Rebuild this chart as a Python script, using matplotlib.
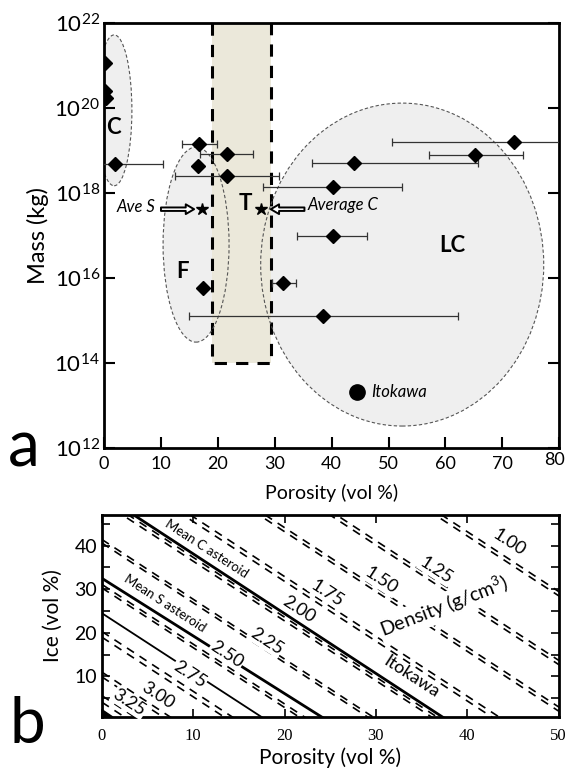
import numpy as np
import matplotlib.pyplot as plt
import matplotlib.transforms as mtransforms
from matplotlib.patches import Ellipse, Rectangle, Polygon

plt.rcParams['font.family'] = ['Lato', 'DejaVu Sans']
plt.rcParams['mathtext.fontset'] = 'custom'
plt.rcParams['mathtext.rm'] = 'Lato'
plt.rcParams['mathtext.it'] = 'Lato:italic'

# ---- panel a : asteroid mass vs porosity ----
poro = [0.2, 0.2, 0.3, 1.9, 16.7, 16.5, 21.6, 21.6, 17.4, 31.5, 38.5, 72.1, 65.2, 43.9, 40.2, 40.2]
mass = [1.15e21, 2.6e20, 1.75e20, 4.8e18, 1.4e19, 4.4e18, 8.3e18, 2.5e18, 5.8e15,
        7.6e15, 1.3e15, 1.6e19, 7.8e18, 5.1e18, 1.4e18, 9.8e16]
err_lo = [0, 0, 0, 8.5, 3.0, 0, 4.7, 9.1, 0, 2.0, 23.6, 21.5, 8.1, 7.3, 12.3, 6.3]
err_hi = [0, 0, 0, 8.5, 3.2, 0, 4.6, 9.2, 0, 2.2, 23.7, 21.5, 8.4, 21.8, 12.2, 6.0]

itokawa = (44.5, 2.1e13)
ave_s = (17.2, 4.2e17)
ave_c = (27.6, 4.2e17)
t_band = (19.0, 29.35, 1e14, 1e22)   # porosity range, mass range

# ---- panel b : density lines, ice vs porosity ----
dens_labels = ['3.25', '3.00', '2.75', '2.50', '2.25', '2.00', '1.75', '1.50', '1.25', '1.00']
pair_p0 = [(3.0, 4.1), (7.2, 8.0), (13.9, 14.8), (22.1, 22.7), (29.6, 30.2),
           (36.6, 37.2), (43.2, 44.0), (51.5, 52.2), (59.3, 60.0), (70.8, 71.5)]
pair_i0 = [(4.1, 5.6), (9.9, 11.0), (19.0, 20.3), (30.3, 31.1), (40.6, 41.4),
           (50.1, 51.0), (59.2, 60.3), (70.6, 71.5), (81.2, 82.2), (97.0, 98.0)]
lab_pos = [(3.0, 4.0), (6.1, 5.6), (9.6, 10.5), (13.7, 15.1), (18.0, 18.1),
           (21.6, 25.3), (24.7, 29.1), (30.6, 31.9), (36.6, 34.4), (44.6, 40.7)]
solid_p0 = [37.8, 24.6, 18.0]
solid_i0 = [51.8, 32.5, 24.5]
solid_lw = [2.0, 2.0, 1.3]
corner_x = [0, 1.2, 0]
corner_y = [0.7, 0.7, 2.4]

fig = plt.figure(figsize=(5.66, 7.74), dpi=100)

ax = fig.add_axes([0.184, 0.421, 0.804, 0.549])
ax.set_yscale('log')
ax.set_xlim(0, 80)
ax.set_ylim(1e12, 1e22)

ell_kw = dict(transform=ax.transAxes)
ellipses = [((0.022, 0.795), 0.078, 0.355), ((0.202, 0.479), 0.145, 0.459), ((0.655, 0.432), 0.622, 0.760)]
for c, w, h in ellipses:
    ax.add_patch(Ellipse(c, w, h, facecolor='#efefef', edgecolor='none', zorder=1, **ell_kw))

ax.add_patch(Rectangle((t_band[0], t_band[2]), t_band[1] - t_band[0], t_band[3] - t_band[2],
                       facecolor='#ebe8da', edgecolor='none', zorder=1.5))
ax.plot([t_band[0], t_band[0], t_band[1], t_band[1]], [t_band[3], t_band[2], t_band[2], t_band[3]],
        color='black', lw=2.2, ls=(0, (4, 3)), zorder=2)
for c, w, h in ellipses:
    ax.add_patch(Ellipse(c, w, h, facecolor='none', edgecolor='#555555', lw=0.8,
                         ls=(0, (3, 2)), zorder=2, **ell_kw))

poro = np.array(poro)
mass = np.array(mass)
has_err = (np.array(err_lo) + np.array(err_hi)) > 0
ax.errorbar(poro[has_err], mass[has_err],
            xerr=[np.array(err_lo)[has_err], np.array(err_hi)[has_err]],
            fmt='none', ecolor='#333333', elinewidth=0.9, capsize=3, capthick=0.9, zorder=3)
ax.plot(poro, mass, 'D', color='black', ms=7.5, zorder=4)
ax.plot(*itokawa, 'o', color='black', ms=11, zorder=4)
ax.plot([ave_s[0], ave_c[0]], [ave_s[1], ave_c[1]], '*', color='black', ms=9, zorder=4)

arrow_kw = dict(arrowstyle='simple,head_width=0.7,head_length=0.6,tail_width=0.25',
                fc='white', ec='black', lw=1.4)
ax.annotate('', xy=(16.3, ave_s[1]), xytext=(9.5, ave_s[1]), arrowprops=arrow_kw, zorder=5)
ax.annotate('', xy=(28.8, ave_c[1]), xytext=(35.7, ave_c[1]), arrowprops=arrow_kw, zorder=5)
ax.text(9.0, 4.7e17, 'Ave S', style='italic', fontsize=12, ha='right', va='center')
ax.text(35.8, 5.2e17, 'Average C', style='italic', fontsize=12, ha='left', va='center')
ax.text(47.0, itokawa[1], 'Itokawa', style='italic', fontsize=12, ha='left', va='center')

ax.text(1.6, 3.5e19, 'C', fontsize=16, fontweight='bold', ha='center', va='center')
ax.text(13.7, 1.4e16, 'F', fontsize=16, fontweight='bold', ha='center', va='center')
ax.text(24.8, 5.8e17, 'T', fontsize=16, fontweight='bold', ha='center', va='center')
ax.text(61.2, 6e16, 'LC', fontsize=16, fontweight='bold', ha='center', va='center')

ax.set_xticks(range(0, 81, 10))
ax.set_yticks([1e12, 1e14, 1e16, 1e18, 1e20, 1e22])
ax.set_yticklabels(['$10^{12}$', '$10^{14}$', '$10^{16}$', '$10^{18}$', '$10^{20}$', '$10^{22}$'])
ax.minorticks_off()
ax.tick_params(axis='x', direction='in', length=8, width=1.5, labelsize=13, pad=6)
ax.tick_params(axis='y', direction='in', length=8, width=1.5, labelsize=16, right=True, pad=3)
for s in ax.spines.values():
    s.set_linewidth(2)
ax.set_xlabel('Porosity (vol %)', fontsize=14, labelpad=8)
ax.set_ylabel('Mass (kg)', fontsize=17, labelpad=4)
fig.text(8 / 566, 0.397, 'a', fontsize=46, ha='left', va='baseline')

# pull the last tick label ("80") in a little so it stays inside the figure
last = ax.get_xticklabels()[-1]
last.set_transform(last.get_transform() + mtransforms.ScaledTranslation(-5 / 100, 4 / 100, fig.dpi_scale_trans))

# ---- panel b ----
bx = fig.add_axes([0.180, 0.0736, 0.807, 0.261])
bx.set_xlim(0, 50)
bx.set_ylim(0.7, 47)
for (pa, pb), (ia, ib) in zip(pair_p0, pair_i0):
    for p0, i0 in ((pa, ia), (pb, ib)):
        bx.plot([0, p0], [i0, 0], color='black', lw=1.2, ls=(0, (5, 4)), zorder=2)
for p0, i0, lw in zip(solid_p0, solid_i0, solid_lw):
    bx.plot([0, p0], [i0, 0], color='black', lw=lw, zorder=2)
bx.add_patch(Polygon(list(zip(corner_x, corner_y)), closed=True, color='black', zorder=3))

for lab, (x, y) in zip(dens_labels, lab_pos):
    bx.text(x, y, lab, fontsize=13, rotation=-33, rotation_mode='anchor', ha='center', va='center',
            zorder=4, bbox=dict(boxstyle='square,pad=0.05', fc='white', ec='none'))
bx.text(11.5, 39.3, 'Mean C asteroid', fontsize=9.5, rotation=-33, rotation_mode='anchor',
        ha='center', va='center')
bx.text(6.9, 26.7, 'Mean S asteroid', fontsize=9.5, rotation=-33, rotation_mode='anchor',
        ha='center', va='center')
bx.text(33.9, 10.0, 'Itokawa', fontsize=13, rotation=-33, rotation_mode='anchor',
        ha='center', va='center')
bx.text(37.5, 26.0, 'Density (g/cm$^3$)', fontsize=14, rotation=21, rotation_mode='anchor',
        ha='center', va='center', zorder=4,
        bbox=dict(boxstyle='square,pad=0.1', fc='white', ec='none'))

bx.set_xticks(range(0, 51, 10))
bx.set_xticklabels([str(v) for v in range(0, 51, 10)], family='Liberation Serif')
bx.set_yticks([10, 20, 30, 40])
bx.set_yticks([5, 15, 25, 35, 45], minor=True)
bx.tick_params(axis='x', direction='in', length=6, width=1.2, labelsize=12, top=True, pad=8)
bx.tick_params(axis='y', which='both', direction='in', length=6, width=1.2, labelsize=14, right=True)
for s in bx.spines.values():
    s.set_linewidth(2)
bx.set_xlabel('Porosity (vol %)', fontsize=15, labelpad=2)
bx.set_ylabel('Ice (vol %)', fontsize=15, labelpad=8)
fig.text(10 / 566, 0.040, 'b', fontsize=46, ha='left', va='baseline')

fig.savefig('out.png', dpi=100)
